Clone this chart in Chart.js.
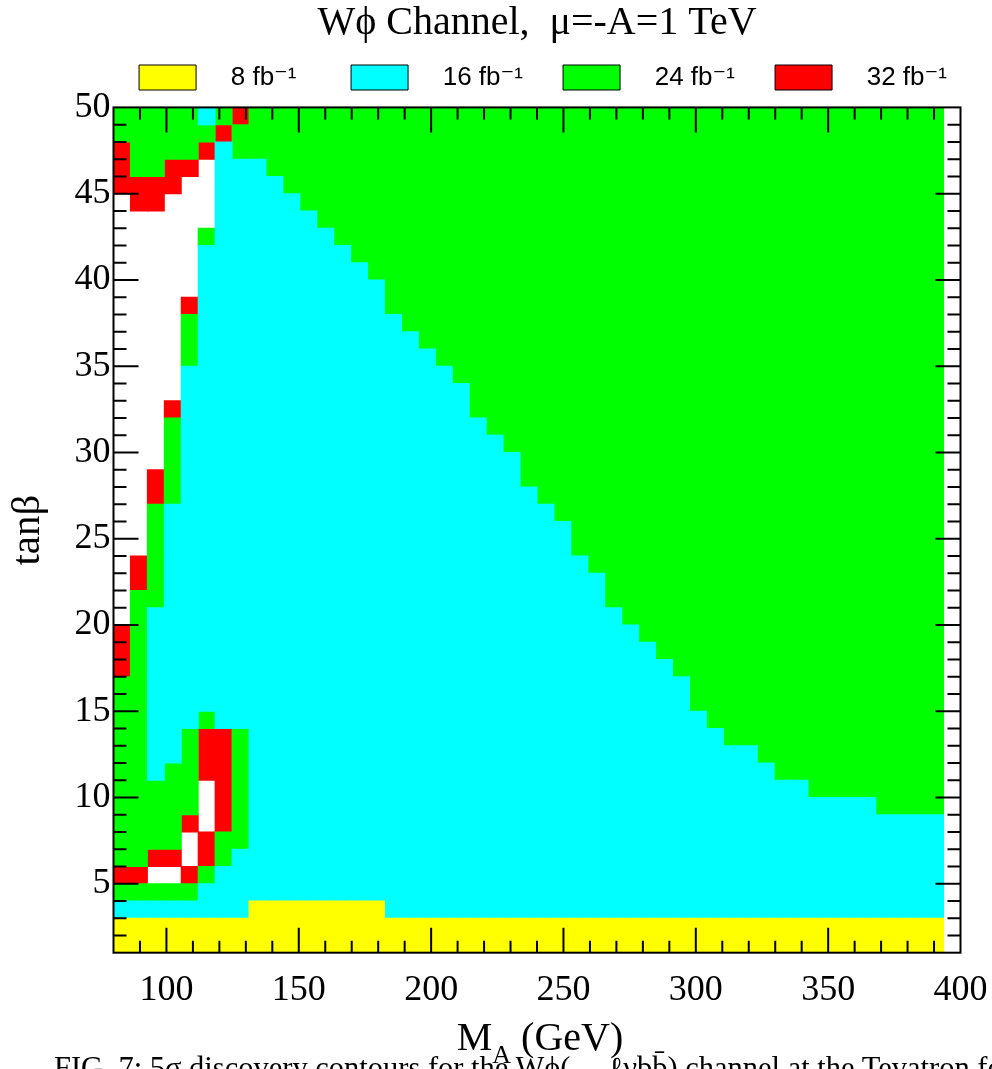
<!DOCTYPE html>
<html>
<head>
<meta charset="utf-8">
<title>Wϕ Channel</title>
<script src="https://cdn.jsdelivr.net/npm/chart.js@4.4.1/dist/chart.umd.min.js"></script>
<style>
  html, body { margin: 0; padding: 0; background: #fff; overflow: hidden; }
  #wrap { position: relative; width: 992px; height: 1069px; }
  #chart { display: block; }
  #caption { position: absolute; left: 54px; top: 1053px; font: 30.5px 'Liberation Serif', serif; line-height: 30px; white-space: nowrap; color: #000; }
</style>
</head>
<body>
<div id="wrap">
  <canvas id="chart" width="992" height="1069"></canvas>
  <div id="caption">FIG. 7: 5σ discovery contours for the Wϕ(→ ℓνbb̄) channel at the Tevatron for</div>
</div>
<script>
// M_A bin centres (GeV), 49 bins of 6.4 GeV from 80
const massCentres = [83.2, 89.6, 96.0, 102.4, 108.8, 115.2, 121.6, 128.0, 134.4, 140.8,
  147.2, 153.6, 160.0, 166.4, 172.8, 179.2, 185.6, 192.0, 198.4, 204.8,
  211.2, 217.6, 224.0, 230.4, 236.8, 243.2, 249.6, 256.0, 262.4, 268.8,
  275.2, 281.6, 288.0, 294.4, 300.8, 307.2, 313.6, 320.0, 326.4, 332.8,
  339.2, 345.6, 352.0, 358.4, 364.8, 371.2, 377.6, 384.0, 390.4];

// tanβ where the 8 fb-1 region ends, per mass bin
const yellowTop = [3, 3, 3, 3, 3, 3, 3, 3, 4, 4, 4, 4, 4, 4, 4, 4,
  3, 3, 3, 3, 3, 3, 3, 3, 3, 3, 3, 3, 3, 3, 3, 3, 3, 3, 3, 3, 3, 3, 3, 3, 3, 3, 3, 3, 3, 3, 3, 3, 3];

// tanβ where 16 fb-1 gives way to 24 fb-1 (main region, bins 8..48)
const greenFloor = [null, null, null, null, null, null, null, null,
  47, 46, 45, 44, 43, 42, 41, 40, 38, 37, 36, 35, 34, 32, 31, 30, 28, 27, 26, 24, 23, 21,
  20, 19, 18, 17, 15, 14, 13, 13, 12, 11, 11, 10, 10, 10, 10, 9, 9, 9, 9];

// low-mass edge: [bin, tanβ from, tanβ to]
const leftCyan = [[0, 3, 4], [1, 3, 4], [2, 3, 4], [2, 11, 21], [3, 3, 4], [3, 12, 27],
  [4, 3, 4], [4, 14, 35], [5, 3, 5], [5, 15, 42], [5, 49, 50], [6, 3, 6], [6, 14, 48],
  [7, 3, 7], [7, 14, 47]];
const leftGreen = [[0, 4, 5], [0, 6, 17], [0, 48, 50], [1, 4, 5], [1, 6, 22], [1, 46, 50],
  [2, 4, 5], [2, 7, 11], [2, 21, 27], [2, 46, 50], [3, 4, 5], [3, 7, 12], [3, 27, 32],
  [3, 47, 50], [4, 4, 5], [4, 9, 14], [4, 35, 38], [4, 47, 50], [5, 5, 6], [5, 14, 15],
  [5, 42, 43], [5, 48, 49], [6, 6, 8], [6, 49, 50], [7, 7, 14], [7, 47, 49]];
const leftRed = [[0, 5, 6], [0, 17, 20], [0, 45, 48], [1, 5, 6], [1, 22, 24], [1, 44, 46],
  [2, 6, 7], [2, 27, 29], [2, 44, 46], [3, 6, 7], [3, 32, 33], [3, 45, 47], [4, 5, 6],
  [4, 8, 9], [4, 38, 39], [4, 46, 47], [5, 6, 8], [5, 11, 14], [5, 47, 48], [6, 8, 14],
  [6, 48, 49], [7, 49, 50]];

const levelLabels = ['8 fb⁻¹', '16 fb⁻¹', '24 fb⁻¹', '32 fb⁻¹'];
const levelColors = ['#ffff00', '#00ffff', '#00ff00', '#ff0000'];
const xTickValues = [100, 150, 200, 250, 300, 350, 400];
const yTickValues = [5, 10, 15, 20, 25, 30, 35, 40, 45, 50];
const titleText = 'Wϕ Channel,  μ=-A=1 TeV';

const serif = "'Liberation Serif', 'DejaVu Serif', serif";
const sans = "'Liberation Sans', 'DejaVu Sans', sans-serif";

function cell(bin, lo, hi) {
  return { x: massCentres[bin], y: [lo, hi] };
}

const yellowData = yellowTop.map((top, i) => cell(i, 1, top));
const cyanData = leftCyan.map(r => cell(r[0], r[1], r[2]));
const greenData = leftGreen.map(r => cell(r[0], r[1], r[2]));
const redData = leftRed.map(r => cell(r[0], r[1], r[2]));
greenFloor.forEach((floor, i) => {
  if (floor === null) return;
  cyanData.push(cell(i, yellowTop[i], floor));
  greenData.push(cell(i, floor, 50));
});

// inward ticks on all four sides plus the frame
const frameTicks = {
  id: 'frameTicks',
  afterDatasetsDraw(chart) {
    const { ctx, chartArea: a, scales } = chart;
    ctx.save();
    ctx.strokeStyle = '#000';
    ctx.lineWidth = 2;
    ctx.beginPath();
    for (let t = 2; t < 50; t++) {
      const py = scales.y.getPixelForValue(t);
      const len = t % 5 === 0 ? 25 : 13;
      ctx.moveTo(a.left, py); ctx.lineTo(a.left + len, py);
      ctx.moveTo(a.right, py); ctx.lineTo(a.right - len, py);
    }
    for (let m = 90; m < 400; m += 10) {
      const px = scales.x.getPixelForValue(m);
      const len = m % 50 === 0 ? 25 : 12;
      ctx.moveTo(px, a.bottom); ctx.lineTo(px, a.bottom - len);
      ctx.moveTo(px, a.top); ctx.lineTo(px, a.top + len);
    }
    ctx.stroke();
    ctx.strokeRect(a.left, a.top, a.right - a.left, a.bottom - a.top);
    ctx.restore();
  }
};

// x title with a subscript: M_A (GeV)
const massTitle = {
  id: 'massTitle',
  afterDraw(chart) {
    const { ctx, chartArea: a } = chart;
    const big = '40px ' + serif;
    const small = '26px ' + serif;
    ctx.save();
    ctx.fillStyle = '#000';
    ctx.textBaseline = 'alphabetic';
    ctx.textAlign = 'left';
    ctx.font = big;
    const wM = ctx.measureText('M').width;
    const wU = ctx.measureText(' (GeV)').width;
    ctx.font = small;
    const wA = ctx.measureText('A').width;
    const x0 = (a.left + a.right) / 2 - (wM + wA + wU) / 2 + 3;
    const base = a.bottom + 97;
    ctx.font = big;
    ctx.fillText('M', x0, base);
    ctx.font = small;
    ctx.fillText('A', x0 + wM, base + 13);
    ctx.font = big;
    ctx.fillText(' (GeV)', x0 + wM + wA, base);
    ctx.restore();
  }
};

// legend row sits a little right of the plot centre in the original
const legendNudge = {
  id: 'legendNudge',
  afterLayout(chart) {
    chart.legend.left += 6;
    chart.legend.right += 6;
  }
};

const datasets = [yellowData, cyanData, greenData, redData].map((d, i) => ({
  label: levelLabels[i],
  data: d,
  backgroundColor: levelColors[i],
  xAxisID: 'x',
  yAxisID: 'y'
}));

new Chart(document.getElementById('chart'), {
  type: 'bar',
  data: { datasets: datasets },
  options: {
    responsive: false,
    animation: false,
    events: [],
    layout: { padding: { left: 0, right: 31.5, top: 0, bottom: 0 } },
    datasets: {
      bar: { barPercentage: 1, categoryPercentage: 1, grouped: false, borderWidth: 0, inflateAmount: 0.5 }
    },
    plugins: {
      tooltip: { enabled: false },
      title: {
        display: true,
        text: titleText,
        fullSize: false,
        color: '#000',
        font: { family: serif, size: 40, weight: 'normal', lineHeight: 1.15 },
        padding: { top: 0, bottom: 14.5 }
      },
      legend: {
        position: 'top',
        fullSize: false,
        labels: {
          boxWidth: 57,
          boxHeight: 25,
          padding: 4,
          color: '#000',
          font: { family: sans, size: 26 },
          generateLabels(chart) {
            const n = chart.data.datasets.length;
            return chart.data.datasets.map((ds, i) => ({
              text: '   ' + ds.label + (i === n - 1 ? '' : (i === 0 ? '       ' : '     ')),
              fillStyle: ds.backgroundColor,
              strokeStyle: '#000',
              lineWidth: 1,
              hidden: false,
              datasetIndex: i
            }));
          }
        }
      }
    },
    scales: {
      x: {
        type: 'linear',
        position: 'bottom',
        min: 80,
        max: 400,
        offset: false,
        grid: { display: false, drawTicks: false },
        border: { display: false },
        afterBuildTicks(s) { s.ticks = xTickValues.map(v => ({ value: v })); },
        afterFit(s) { s.height = 116.3; s.paddingLeft = 0; s.paddingRight = 0; },
        ticks: { color: '#000', font: { family: serif, size: 36 }, padding: 16, maxRotation: 0, autoSkip: false }
      },
      xGap: {
        type: 'linear',
        position: 'top',
        min: 0,
        max: 1,
        grid: { display: false, drawTicks: false },
        border: { display: false },
        ticks: { display: false },
        afterFit(s) { s.height = 6.9; s.paddingLeft = 0; s.paddingRight = 0; }
      },
      y: {
        type: 'linear',
        min: 1,
        max: 50,
        grid: { display: false, drawTicks: false },
        border: { display: false },
        afterBuildTicks(s) { s.ticks = yTickValues.map(v => ({ value: v })); },
        afterFit(s) { s.width = 113.5; },
        ticks: { color: '#000', font: { family: serif, size: 36 }, padding: 3 },
        title: {
          display: true,
          text: 'tanβ',
          color: '#000',
          font: { family: serif, size: 41 },
          padding: { top: 4, bottom: 0 }
        }
      }
    }
  },
  plugins: [frameTicks, massTitle, legendNudge]
});
</script>
</body>
</html>
